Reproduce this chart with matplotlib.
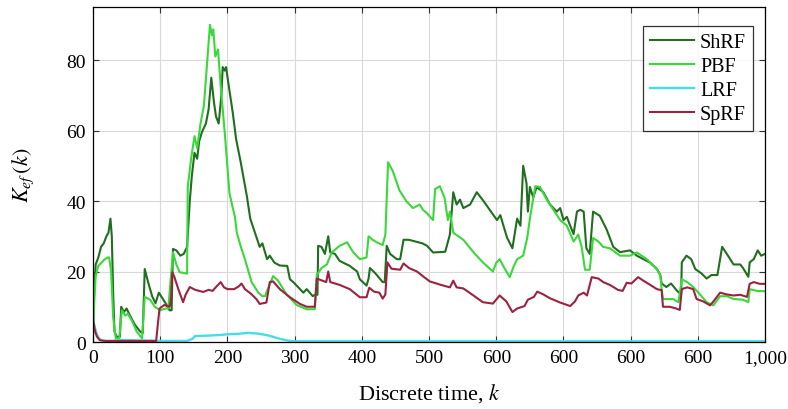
import numpy as np
import matplotlib
matplotlib.use("Agg")
import matplotlib.pyplot as plt

plt.rcParams["font.family"] = ["Liberation Serif", "DejaVu Serif"]
plt.rcParams["mathtext.fontset"] = "stix"

# x tick labels as printed in the source figure
xtick_pos = [0, 100, 200, 300, 400, 500, 600, 700, 800, 900, 1000]
xtick_lbl = ["0", "100", "200", "300", "400", "500", "600", "600", "600", "600", "1,000"]
ytick_pos = [0, 20, 40, 60, 80]

shrf_k = [0, 2, 4, 8, 12, 16, 20, 23, 26, 28, 30, 32, 35, 40, 42, 46, 50, 55, 62, 70, 74, 77, 82, 88, 93, 98,
          102, 108, 114, 117, 119, 124, 130, 135, 140, 144, 147, 151, 155, 158, 162, 168, 172, 176, 180, 183,
          187, 191, 193, 196, 198, 202, 208, 213, 220, 229, 234, 241, 248, 252, 256, 259, 263, 270, 278, 289,
          293, 298, 313, 318, 327, 330, 334, 335, 340, 345, 350, 353, 360, 367, 382, 393, 397, 407, 410, 412,
          420, 431, 434, 437, 442, 452, 457, 462, 470, 480, 490, 497, 506, 516, 524, 531, 536, 541, 546, 551,
          561, 571, 581, 591, 601, 606, 616, 624, 631, 636, 640, 645, 647, 650, 655, 660, 670, 680, 690, 695,
          700, 705, 710, 715, 720, 725, 730, 734, 739, 744, 754, 764, 774, 784, 799, 809, 819, 829, 839, 844,
          846, 853, 860, 869, 875, 876, 883, 890, 896, 905, 913, 920, 929, 936, 943, 953, 963, 967, 975, 977,
          983, 989, 994, 1000]
shrf_v = [3, 15, 22, 24, 27, 28, 30, 31, 35, 30, 14, 3, 1.5, 1.5, 10, 8.5, 9.5, 7.5, 5, 3, 2.5, 20.7, 17, 13, 11, 14,
          12.8, 11, 9, 9, 26.4, 26, 24.5, 25, 27, 40, 47, 53.7, 52, 57, 59.5, 62, 66, 75, 68, 64,
          62, 70, 78, 77, 78, 72.7, 65, 57.5, 50.8, 41.3, 35, 31, 27, 28, 25.4, 23.5, 24.5, 22.5, 21.7, 21.6,
          17.8, 17, 14, 15, 13, 13.4, 13.4, 27.3, 27, 25, 30, 25.4, 25, 23, 21.6, 20, 17.8, 16, 18, 21,
          19.5, 17, 17, 27.3, 25, 23.5, 23.5, 29, 29, 28.5, 28, 27.3, 25.4, 25.5, 25.6, 30.5, 42.5, 39, 40.4, 38,
          39, 42.5, 40, 37.3, 34.6, 36, 29.6, 26.6, 35, 33, 50, 45, 37, 44, 41, 44, 42.5, 39, 37, 38,
          34.6, 35.5, 33, 30.6, 37, 37.5, 37, 26.6, 25, 37, 35.8, 32, 27, 25.5, 26, 24.5, 23.5, 22.5, 20.7, 19,
          16.6, 15.6, 16.6, 14.5, 13.5, 22.6, 24.5, 23.5, 20.7, 19.5, 18, 19, 19, 27, 25, 22, 22, 21, 18.5, 22.6,
          23.5, 26, 24.5, 25]

pbf_k = [0, 2, 4, 8, 17, 22, 24, 27, 30, 34, 39, 43, 48, 52, 58, 65, 73, 77, 85, 92, 100, 108, 112, 119, 124,
         129, 140, 141, 146, 151, 155, 160, 165, 170, 174, 177, 179, 182, 186, 190, 196, 203, 208, 211, 214,
         220, 226, 236, 246, 252, 256, 260, 268, 275, 288, 303, 318, 330, 333, 340, 348, 355, 367, 378, 387,
         397, 407, 410, 416, 422, 431, 435, 439, 446, 456, 466, 476, 486, 491, 497, 506, 509, 516, 523, 528,
         531, 536, 551, 566, 580, 595, 600, 605, 612, 620, 626, 631, 640, 646, 650, 658, 665, 675, 685, 695,
         705, 715, 722, 727, 732, 739, 744, 752, 759, 769, 784, 799, 809, 824, 839, 844, 846, 848, 863, 871,
         876, 884, 893, 903, 913, 923, 933, 943, 953, 967, 975, 977, 988, 1000]
pbf_v = [1, 12, 18.7, 21.6, 23.4, 24, 24, 20, 7, 1, 1, 9, 7.5, 8, 6, 3, 1, 12.8, 12, 10, 9, 9.5, 9.5, 25.5, 22,
         19.8, 19.4, 44, 52, 58.4, 55, 62, 67, 80, 90, 87, 88.7, 81, 83, 72.7, 59.5, 42.3, 38, 35.7, 31,
         27, 23.5, 17, 14, 13, 13, 15, 18.7, 17.5, 13.5, 10.5, 9.3, 9.3, 19, 21, 22, 25.4, 27.3, 28.3, 25.5,
         23.5, 24, 30, 29, 28.3, 27.5, 30.5, 51, 48.5, 43, 40, 38, 39, 37.5, 36.5, 34.6, 43.4, 44.2, 41, 34.6,
         37, 31, 29, 25.5, 22.6, 20, 22.5, 23.5, 21, 18.4, 21.5, 23.5, 24.5, 29.5, 35, 44.2, 44, 40.4, 37.5, 34.6,
         33, 28.5, 30.5, 27, 20.5, 20.5, 29.5, 28.5, 27, 26.6, 24.5, 24.5, 25.4, 23.5, 20.7, 19, 15, 12.2, 12.2, 11.3,
         17.8, 17, 15.6, 13.5, 11.3, 10.4, 13, 13, 12.2, 12, 11.3, 15, 14.5, 14.4]

lrf_k = [0, 3, 6, 10, 15, 30, 40, 60, 100, 140, 148, 152, 170, 190, 200, 215, 230, 245, 260, 278, 290, 300, 1000]
lrf_v = [6.5, 4, 2, 0.8, 0.3, 0.3, 0.6, 0.5, 0.3, 0.3, 0.9, 1.7, 1.8, 2.0, 2.2, 2.3, 2.6, 2.4, 1.9, 0.9, 0.4, 0.2, 0.2]

sprf_k = [0, 3, 6, 10, 20, 60, 94, 97, 99, 106, 114, 116, 118, 121, 127, 134, 138, 144, 152, 164, 172, 178, 183,
          190, 195, 200, 210, 217, 221, 226, 235, 243, 248, 258, 263, 268, 278, 293, 308, 318, 330, 333, 340,
          347, 350, 353, 367, 382, 397, 407, 411, 418, 426, 431, 435, 438, 444, 457, 462, 470, 482, 492, 501,
          516, 531, 536, 541, 551, 566, 580, 595, 605, 615, 624, 631, 642, 647, 656, 661, 670, 680, 695, 710,
          717, 722, 730, 735, 742, 752, 759, 769, 781, 788, 794, 801, 811, 818, 829, 839, 846, 848, 858, 866,
          873, 876, 884, 893, 898, 908, 918, 923, 933, 943, 953, 963, 973, 977, 983, 992, 1000]
sprf_v = [6.5, 3, 1.5, 0.5, 0.3, 0.3, 0.3, 6, 9.5, 10.5, 10, 12, 19.8, 18.5, 15, 11.3, 13.5, 15.6, 14.8, 14.2, 14.8, 14.5, 15.6,
          17, 15.5, 15, 15, 15.8, 16.6, 15, 13.7, 12.2, 10.8, 11.2, 17, 17.2, 15, 12.7, 10.8, 10, 10, 18, 17.5,
          17, 20, 17, 16.2, 15, 12.7, 12.7, 15.4, 14.3, 14, 12.3, 13.5, 22.6, 20.8, 20.5, 22.3, 21, 20, 18.5, 17.2,
          16.3, 15.5, 17.4, 15.5, 15.2, 13.2, 11.3, 10.9, 13.2, 11.5, 8.5, 9.5, 10.2, 12, 12.8, 14.3, 13.5, 12.4, 11.2, 10.2,
          11.5, 13.2, 14, 13.2, 18.4, 18, 17, 16.2, 14.8, 14.5, 16.8, 16.6, 18.4, 17.5, 16.2, 15, 14.7, 10, 10, 9.6,
          9.1, 15, 15.5, 15, 12.2, 11.5, 10.4, 11.5, 14, 13.5, 13.2, 13.4, 12.8, 16.5, 17, 16.5, 16.5]

fig = plt.figure(figsize=(7.88, 4.10), dpi=100)
ax = fig.add_axes([0.118, 0.1634, 0.853, 0.8166])

ax.plot(shrf_k, shrf_v, color="#1f6f1f", lw=1.5, label="ShRF")
ax.plot(pbf_k, pbf_v, color="#3ad83a", lw=1.5, label="PBF")
ax.plot(lrf_k, lrf_v, color="#45dde6", lw=1.7, label="LRF")
ax.plot(sprf_k, sprf_v, color="#9c2340", lw=1.5, label="SpRF")

ax.set_xlim(0, 1000)
ax.set_ylim(0, 95)
ax.set_xticks(xtick_pos)
ax.set_xticklabels(xtick_lbl)
ax.set_yticks(ytick_pos)
ax.tick_params(direction="in", top=True, right=True, labelsize=14, length=4, color="#333333", pad=5)
ax.grid(True, color="#d9d9d9", lw=0.8)
for s in ax.spines.values():
    s.set_linewidth(0.9)

ax.set_xlabel("Discrete time, $k$", fontsize=16, labelpad=11)
ax.set_ylabel("$K_{ef}\\,(k)$", fontsize=16, labelpad=22)

leg = ax.legend(loc="upper right", bbox_to_anchor=(0.982, 0.945), fontsize=14.5, frameon=True, fancybox=False,
                edgecolor="black", handlelength=2.2, handletextpad=0.3, labelspacing=0.25, borderpad=0.35,
                borderaxespad=0.0)
leg.get_frame().set_linewidth(0.9)

fig.savefig("out.png", dpi=100)
